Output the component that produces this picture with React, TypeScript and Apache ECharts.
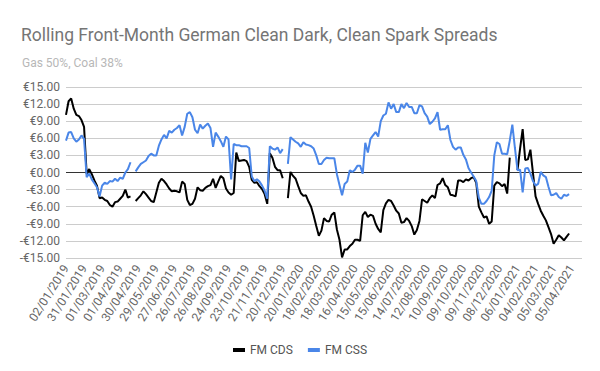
import React, { useEffect, useRef } from "react";
import * as echarts from "echarts";

const TITLE = "Rolling Front-Month German Clean Dark, Clean Spark Spreads";
const SUBTITLE = "Gas 50%, Coal 38%";
const SERIES_NAMES = ["FM CDS", "FM CSS"];

// Tick labels shown on the x axis (every 21 weekdays)
const tickLabels = [
  "02/01/2019", "31/01/2019", "01/03/2019", "01/04/2019", "30/04/2019", "29/05/2019",
  "27/06/2019", "26/07/2019", "26/08/2019", "24/09/2019", "23/10/2019", "21/11/2019",
  "20/12/2019", "20/01/2020", "18/02/2020", "18/03/2020", "16/04/2020", "15/05/2020",
  "15/06/2020", "14/07/2020", "12/08/2020", "10/09/2020", "09/10/2020", "09/11/2020",
  "08/12/2020", "06/01/2021", "04/02/2021", "05/03/2021", "05/04/2021",
];

const yTicks = [-15, -12, -9, -6, -3, 0, 3, 6, 9, 12, 15];

// Category dates: every 3rd weekday starting 02/01/2019
const START_DATE = [2019, 0, 2];
const STEP_WEEKDAYS = 3;
const CATEGORY_COUNT = 201;

// Values, one per category (EUR/MWh)
const cdsValues: (number | null)[] = [
  10.1, 12.5, 13.0, 11.2, 10.1, 9.9, 9.2, 8.0, -0.2, 0.6,
  -0.3, -1.4, -2.3, -4.5, -4.4, -4.8, -5.0, -5.7, -6.0, -5.2,
  -5.1, -4.6, -4.1, -3.0, -4.4, -4.2, null, -5.0, -4.5, -4.0,
  -3.3, -3.8, -4.4, -5.0, -5.2, -3.5, -1.8, -1.1, -1.5, -2.1,
  -2.8, -3.3, -3.2, -3.3, -3.5, -1.6, -2.0, -4.8, -5.7, -5.5,
  -4.6, -2.6, -3.1, -3.2, -2.7, -2.4, -2.2, -1.1, -2.7, -1.6,
  -0.6, -1.0, -2.8, -3.5, -3.9, -3.6, 3.5, 2.0, 2.1, 2.2,
  2.0, 1.0, -1.3, -1.8, -1.7, -2.4, -2.9, -3.8, -5.5, 3.4,
  2.6, 1.0, 0.4, 0.4, -1.0, null, -4.5, 0.1, -0.6, -1.1,
  -2.4, -3.6, -4.1, -4.0, -5.1, -6.0, -7.6, -9.4, -11.1, -10.2,
  -8.0, -8.5, -8.6, -7.4, -7.0, -10.0, -11.8, -14.9, -13.5, -13.5,
  -12.9, -12.5, -11.8, -11.8, -12.0, -7.5, -6.9, -7.8, -7.4, -7.6,
  -9.0, -9.9, -10.5, -6.6, -5.4, -4.8, -5.0, -5.8, -6.7, -7.2,
  -8.8, -8.7, -8.0, -8.5, -9.4, -10.9, -10.1, -8.5, -4.7, -5.0,
  -5.3, -4.5, -4.0, -4.5, -2.2, -1.9, -1.0, -2.2, -2.6, -3.9,
  -4.0, -4.2, -1.4, -1.4, -1.7, -1.2, -1.4, -1.0, -0.8, -1.8,
  -6.0, -7.0, -7.9, -7.7, -9.0, -8.6, -2.3, -1.7, -1.9, -2.4,
  -2.0, -3.7, 2.6, null, null, 0.4, 4.2, 7.6, 2.2, 2.3,
  4.0, -0.1, -4.2, -5.5, -6.7, -7.6, -8.4, -9.6, -10.8, -12.5,
  -11.8, -11.0, -11.4, -11.9, -11.3, -10.7,
];

const cssValues: (number | null)[] = [
  5.6, 7.0, 7.1, 6.0, 5.4, 5.8, 6.5, 5.9, -0.8, -0.2,
  -1.2, -1.9, -2.6, -4.2, -2.3, -1.8, -2.0, -1.5, -1.6, -1.1,
  -1.5, -0.9, -1.1, 0.0, 0.6, 1.8, null, 0.2, 0.9, 1.5,
  1.8, 2.1, 2.9, 3.3, 3.0, 3.0, 4.7, 5.8, 6.6, 6.0,
  7.3, 7.0, 7.5, 7.8, 8.3, 6.5, 8.0, 10.3, 10.6, 9.7,
  7.5, 6.9, 8.4, 7.7, 8.2, 8.6, 7.8, 4.5, 7.0, 6.3,
  5.5, 4.5, 6.3, 5.8, -1.2, 5.0, 4.8, 4.8, 4.6, 4.6,
  4.6, 4.3, -0.7, -1.5, -1.2, -1.6, -2.3, -3.2, -4.6, 4.6,
  4.2, 4.0, 4.4, 3.4, 4.1, null, 1.5, 6.2, 5.8, 5.4,
  5.1, 4.5, 5.3, 4.9, 4.8, 4.6, 4.2, 3.0, 1.5, 1.5,
  2.2, 2.6, 2.5, 2.5, 2.5, -0.3, -2.2, -4.0, -2.0, -1.6,
  0.4, 0.1, 0.5, 1.2, 1.2, -0.2, 5.2, 3.5, 5.9, 6.5,
  7.1, 6.3, 9.0, 10.0, 10.3, 12.3, 11.2, 12.0, 10.6, 10.6,
  12.0, 11.3, 12.2, 11.5, 11.5, 10.4, 10.4, 11.8, 11.6, 10.4,
  9.8, 8.5, 8.9, 9.5, 10.6, 7.5, 7.6, 7.6, 8.3, 5.7,
  4.5, 4.0, 4.4, 4.4, 3.1, 2.3, 0.8, 0.0, -0.7, -1.5,
  -4.4, -5.5, -5.5, -5.0, -4.3, -3.2, 3.0, 5.3, 5.0, 3.3,
  3.3, 3.2, 5.6, 8.4, 4.3, 0.4, 0.5, -3.5, 0.7, 0.8,
  -0.2, -1.5, -2.3, -2.0, 0.1, -0.5, -0.8, -2.5, -4.0, -3.9,
  -3.6, -4.3, -4.6, -3.9, -4.1, -3.8,
];

function pad(n: number) {
  return n < 10 ? "0" + n : String(n);
}

function buildCategories(): string[] {
  const out: string[] = [];
  let d = new Date(Date.UTC(START_DATE[0], START_DATE[1], START_DATE[2]));
  let count = 0;
  while (out.length < CATEGORY_COUNT) {
    const day = d.getUTCDay();
    if (day !== 0 && day !== 6) {
      if (count % STEP_WEEKDAYS === 0) {
        out.push(pad(d.getUTCDate()) + "/" + pad(d.getUTCMonth() + 1) + "/" + d.getUTCFullYear());
      }
      count++;
    }
    d = new Date(d.getTime() + 86400000);
  }
  return out;
}

const FONT = "Roboto";

export default function App() {
  const ref = useRef<HTMLDivElement>(null);

  useEffect(() => {
    document.body.style.margin = "0";
    if (!ref.current) return;
    const chart = echarts.init(ref.current, undefined, { renderer: "svg" });
    const categories = buildCategories();
    const splitColors = yTicks.map((v) => (v === 0 ? "#333333" : "#cccccc"));

    chart.setOption({
      animation: false,
      backgroundColor: "#ffffff",
      textStyle: { fontFamily: FONT },
      title: [
        {
          text: TITLE,
          left: 16,
          top: 21,
          textStyle: { fontFamily: FONT, fontSize: 17.5, fontWeight: "normal", color: "#757575" },
        },
        {
          text: SUBTITLE,
          left: 17,
          top: 52,
          textStyle: { fontFamily: FONT, fontSize: 12, fontWeight: "normal", color: "#b7b7b7" },
        },
      ],
      legend: {
        data: SERIES_NAMES,
        left: "center",
        top: 339,
        icon: "rect",
        itemWidth: 12,
        itemHeight: 4,
        itemGap: 15,
        textStyle: { fontFamily: FONT, fontSize: 12, color: "#555555" },
      },
      grid: { left: 66, right: 18, top: 87, bottom: 113, containLabel: false },
      xAxis: {
        type: "category",
        data: categories,
        boundaryGap: false,
        axisLine: { show: false },
        axisTick: { show: false },
        splitLine: { show: false },
        axisLabel: {
          interval: 6,
          rotate: 58,
          margin: 8,
          fontFamily: FONT,
          fontSize: 12,
          color: "#666666",
          formatter: (value: string, index: number) =>
            index % 7 === 0 && tickLabels[index / 7] ? tickLabels[index / 7] : value,
        },
      },
      yAxis: {
        type: "value",
        min: -15,
        max: 15,
        interval: 3,
        axisLine: { show: false },
        axisTick: { show: false },
        splitLine: { show: true, lineStyle: { color: splitColors, width: 1 } },
        axisLabel: {
          margin: 6,
          fontFamily: FONT,
          fontSize: 12,
          color: "#666666",
          formatter: (v: number) => (v < 0 ? "-" : "") + "€" + Math.abs(v).toFixed(2),
        },
      },
      series: [
        {
          name: SERIES_NAMES[0],
          type: "line",
          data: cdsValues,
          showSymbol: false,
          connectNulls: false,
          color: "#000000",
          lineStyle: { width: 2, color: "#000000" },
        },
        {
          name: SERIES_NAMES[1],
          type: "line",
          data: cssValues,
          showSymbol: false,
          connectNulls: false,
          color: "#4a86e8",
          lineStyle: { width: 2, color: "#4a86e8" },
        },
      ],
    });

    return () => chart.dispose();
  }, []);

  return <div ref={ref} style={{ width: 600, height: 371 }} />;
}
